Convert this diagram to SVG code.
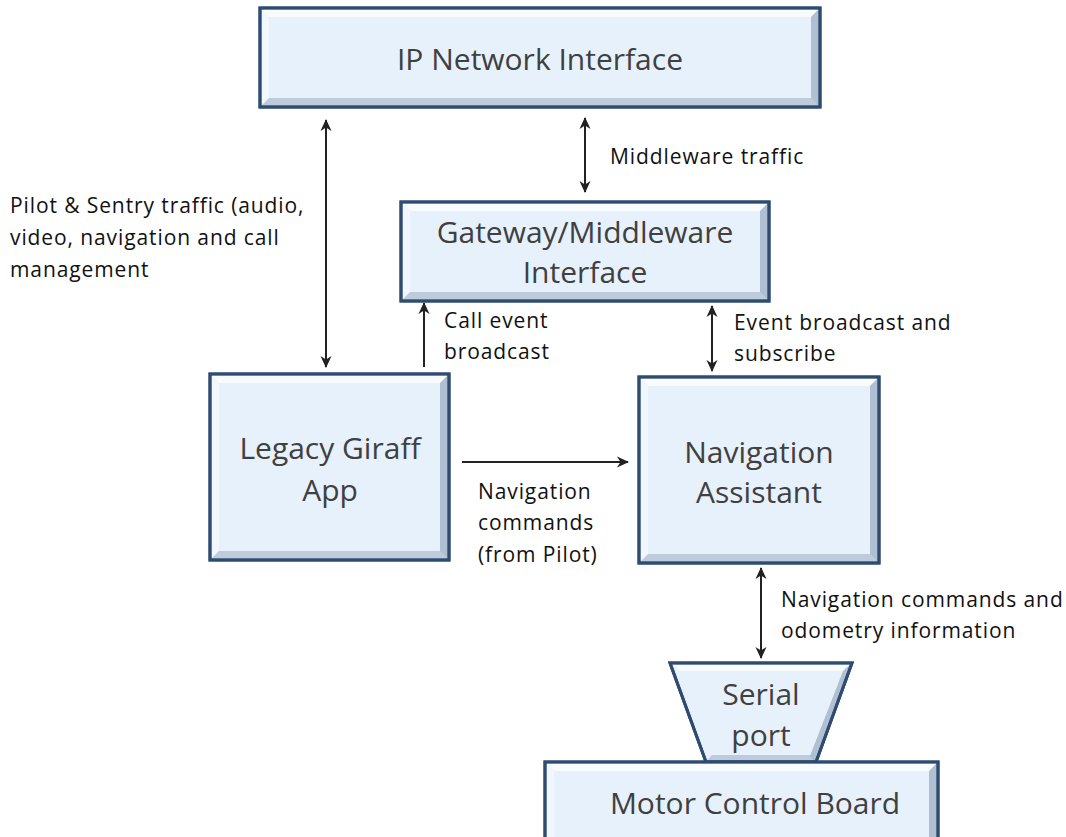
<svg xmlns="http://www.w3.org/2000/svg" width="1066" height="837" viewBox="0 0 1066 837">
<defs>
<style>
.box{fill:#e7f1fc;stroke:#2e4b70;stroke-width:3}
.hi{fill:#ffffff;opacity:.75}
.hl{fill:#ffffff;opacity:.45}
.sh{fill:#7f93ab;opacity:.4}
.sr{fill:#5f7590;opacity:.4}
.bt{font-family:"Open Sans","Liberation Sans",sans-serif;font-size:30px;fill:#404040;text-anchor:middle}
.lb{font-family:"Open Sans","Liberation Sans",sans-serif;font-size:21px;letter-spacing:0.9px;fill:#111}
.cn{stroke:#222;stroke-width:2;fill:none}
</style>
<marker id="ah" viewBox="0 0 12 12" refX="11" refY="6" markerWidth="12" markerHeight="12" markerUnits="userSpaceOnUse" orient="auto-start-reverse">
<path d="M0,0.5 L12,6 L0,11.5 L3.5,6 z" fill="#222"/>
</marker>
</defs>
<g id="connectors">
<line class="cn" x1="326" y1="120" x2="326" y2="367" marker-start="url(#ah)" marker-end="url(#ah)"/>
<line class="cn" x1="585" y1="118" x2="585" y2="192" marker-start="url(#ah)" marker-end="url(#ah)"/>
<line class="cn" x1="424" y1="367" x2="424" y2="303" marker-end="url(#ah)"/>
<line class="cn" x1="712" y1="306" x2="712" y2="371" marker-start="url(#ah)" marker-end="url(#ah)"/>
<line class="cn" x1="462" y1="462" x2="628" y2="462" marker-end="url(#ah)"/>
<line class="cn" x1="761" y1="568" x2="761" y2="658" marker-start="url(#ah)" marker-end="url(#ah)"/>
<text class="lb" x="10" y="213">Pilot &amp; Sentry traffic (audio,</text>
<text class="lb" x="10" y="245">video, navigation and call</text>
<text class="lb" x="10" y="277">management</text>
<text class="lb" x="610" y="164">Middleware traffic</text>
<text class="lb" x="444" y="328">Call event</text>
<text class="lb" x="444" y="359">broadcast</text>
<text class="lb" x="734" y="330">Event broadcast and</text>
<text class="lb" x="734" y="361">subscribe</text>
<text class="lb" x="478" y="499">Navigation</text>
<text class="lb" x="478" y="530">commands</text>
<text class="lb" x="478" y="562">(from Pilot)</text>
<text class="lb" x="781" y="607">Navigation commands and</text>
<text class="lb" x="781" y="638">odometry information</text>
</g>
<g id="ip">
<rect class="box" x="260" y="8" width="560" height="99"/>
<polygon class="hi" points="261.5,9.5 818.5,9.5 811,17 269,17"/>
<polygon class="hl" points="261.5,9.5 269,17 269,98 261.5,105.5"/>
<polygon class="sh" points="261.5,105.5 269,98 811,98 818.5,105.5"/>
<polygon class="sr" points="818.5,9.5 818.5,105.5 811,98 811,17"/>
<rect x="260" y="8" width="560" height="99" fill="none" stroke="#2e4b70" stroke-width="3"/>
<text class="bt" x="540" y="70">IP Network Interface</text>
</g>
<g id="gateway">
<rect class="box" x="401" y="202" width="368" height="99"/>
<polygon class="hi" points="402.5,203.5 767.5,203.5 760,211 410,211"/>
<polygon class="hl" points="402.5,203.5 410,211 410,292 402.5,299.5"/>
<polygon class="sh" points="402.5,299.5 410,292 760,292 767.5,299.5"/>
<polygon class="sr" points="767.5,203.5 767.5,299.5 760,292 760,211"/>
<rect x="401" y="202" width="368" height="99" fill="none" stroke="#2e4b70" stroke-width="3"/>
<text class="bt" x="585" y="243">Gateway/Middleware</text>
<text class="bt" x="585" y="283">Interface</text>
</g>
<g id="legacy">
<rect class="box" x="210" y="374" width="239" height="186"/>
<polygon class="hi" points="211.5,375.5 447.5,375.5 440,383 219,383"/>
<polygon class="hl" points="211.5,375.5 219,383 219,551 211.5,558.5"/>
<polygon class="sh" points="211.5,558.5 219,551 440,551 447.5,558.5"/>
<polygon class="sr" points="447.5,375.5 447.5,558.5 440,551 440,383"/>
<rect x="210" y="374" width="239" height="186" fill="none" stroke="#2e4b70" stroke-width="3"/>
<text class="bt" x="330" y="459">Legacy Giraff</text>
<text class="bt" x="330" y="501">App</text>
</g>
<g id="navassist">
<rect class="box" x="639" y="377" width="240" height="186"/>
<polygon class="hi" points="640.5,378.5 877.5,378.5 870,386 648,386"/>
<polygon class="hl" points="640.5,378.5 648,386 648,554 640.5,561.5"/>
<polygon class="sh" points="640.5,561.5 648,554 870,554 877.5,561.5"/>
<polygon class="sr" points="877.5,378.5 877.5,561.5 870,554 870,386"/>
<rect x="639" y="377" width="240" height="186" fill="none" stroke="#2e4b70" stroke-width="3"/>
<text class="bt" x="759" y="463">Navigation</text>
<text class="bt" x="759" y="503">Assistant</text>
</g>
<g id="serial">
<polygon class="box" points="670,663 852,663 816,762 706,762"/>
<polygon class="hi" points="672,664.5 850,664.5 843,671 680,671"/>
<polygon class="sr" points="850,664.5 843,671 810,756 815,761"/>
<polygon class="sh" points="707,760.5 712,755 810,755 815,760.5"/>
<polygon points="670,663 852,663 816,762 706,762" fill="none" stroke="#2e4b70" stroke-width="3"/>
<text class="bt" x="761" y="705">Serial</text>
<text class="bt" x="761" y="746">port</text>
</g>
<g id="motor">
<rect class="box" x="545" y="762" width="393" height="90"/>
<polygon class="hi" points="546.5,763.5 936.5,763.5 929,771 554,771"/>
<polygon class="hl" points="546.5,763.5 554,771 554,837 546.5,837"/>
<polygon class="sr" points="936.5,763.5 936.5,837 929,837 929,771"/>
<rect x="545" y="762" width="393" height="90" fill="none" stroke="#2e4b70" stroke-width="3"/>
<text class="bt" x="755" y="814">Motor Control Board</text>
</g>
</svg>
